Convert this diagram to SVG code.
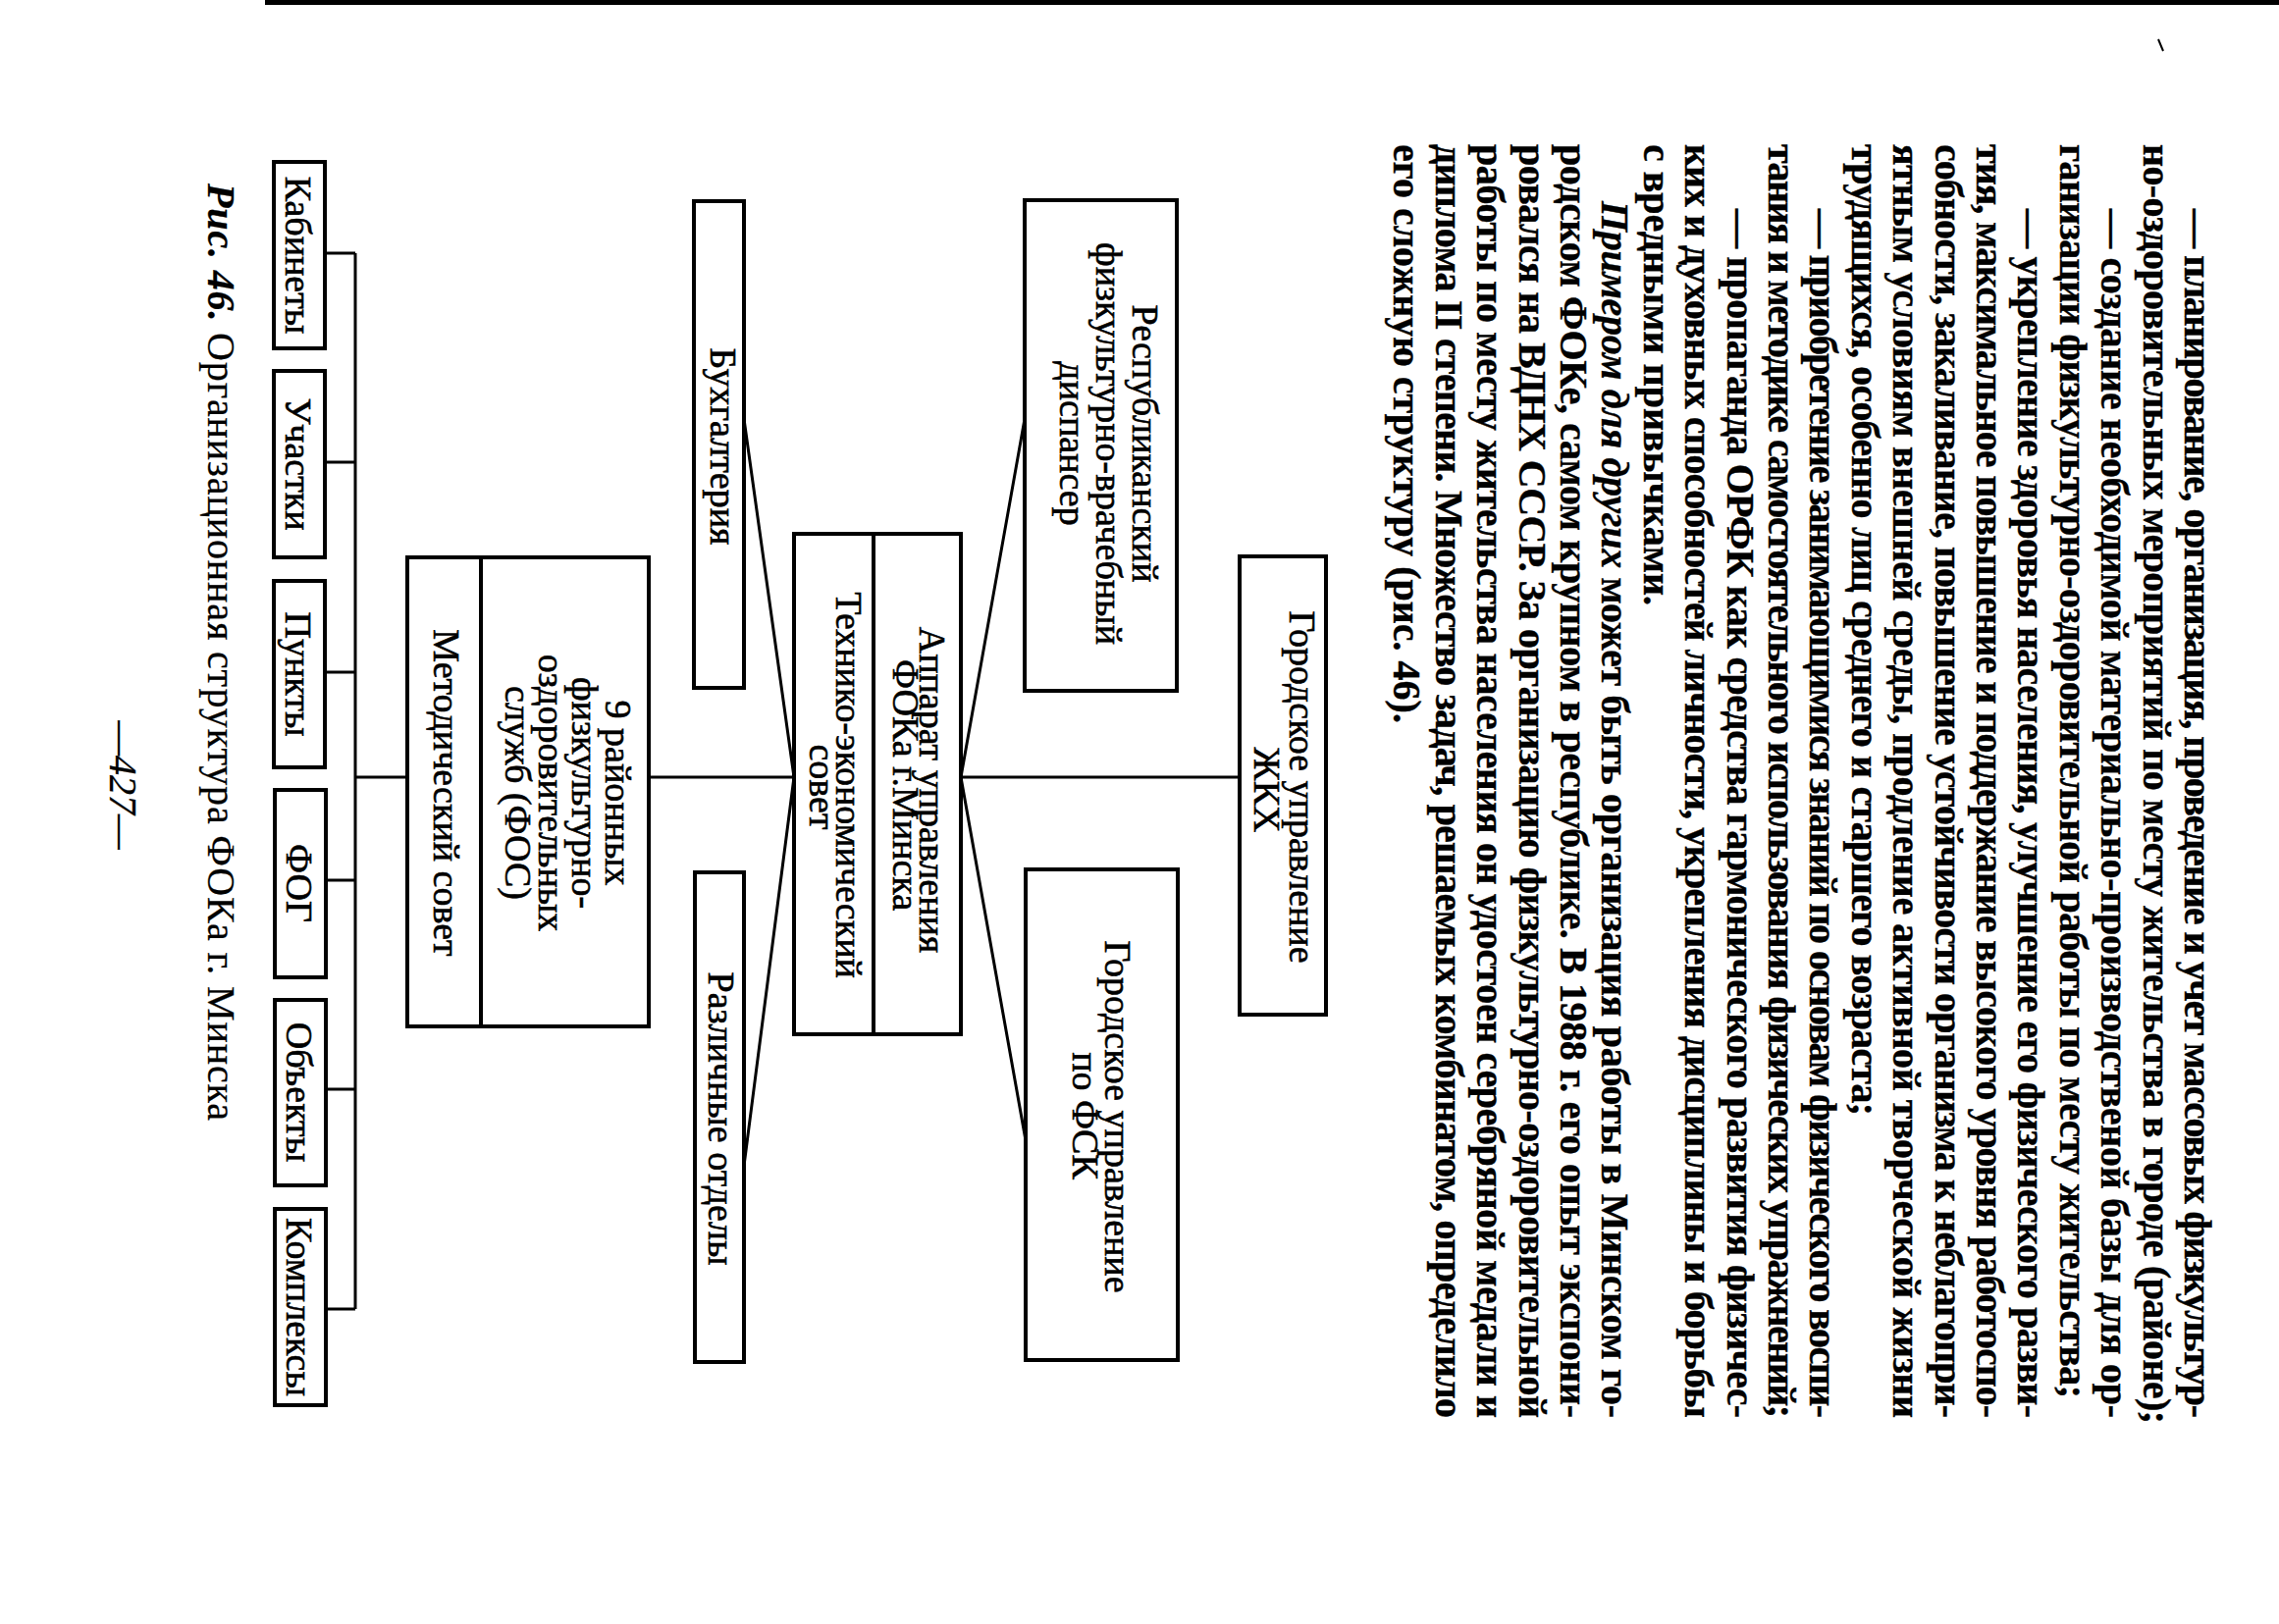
<svg xmlns="http://www.w3.org/2000/svg" width="2322" height="1655" viewBox="0 0 2322 1655">
<style>
.pt{font-family:"Liberation Serif",serif;font-weight:bold;font-size:40px;fill:#000;stroke:#000;stroke-width:0.4}
.it{font-style:italic}
.lbl{font-family:"Liberation Serif",serif;font-size:38px;fill:#000;stroke:#000;stroke-width:0.6;text-anchor:middle}
.box{fill:#fff;stroke:#000;stroke-width:4}
.ln{stroke:#000;stroke-width:3;fill:none}
.cap{font-family:"Liberation Serif",serif;font-size:40px;fill:#000;stroke:#000;stroke-width:0.3}
</style>
<rect x="0" y="0" width="2322" height="1655" fill="#fff"/>
<g id="page-edge">
<rect x="270" y="0" width="2052" height="5" fill="#000"/>
<line x1="2199" y1="40" x2="2204" y2="52" stroke="#000" stroke-width="2"/>
</g>
<g id="page-text" class="pt">
<text transform="translate(2226,213) rotate(90)" textLength="1232" lengthAdjust="spacing">— планирование, организация, проведение и учет массовых физкультур-</text>
<text transform="translate(2183.6,147) rotate(90)" textLength="1304" lengthAdjust="spacing">но-оздоровительных мероприятий по месту жительства в городе (районе);</text>
<text transform="translate(2141.2,213) rotate(90)" textLength="1232" lengthAdjust="spacing">— создание необходимой материально-производственой базы для ор-</text>
<text transform="translate(2098.8,147) rotate(90)" textLength="1278" lengthAdjust="spacing">ганизации физкультурно-оздоровительной работы по месту жительства;</text>
<text transform="translate(2056.4,213) rotate(90)" textLength="1232" lengthAdjust="spacing">— укрепление здоровья населения, улучшение его физического разви-</text>
<text transform="translate(2014,147) rotate(90)" textLength="1298" lengthAdjust="spacing">тия, максимальное повышение и поддержание высокого уровня работоспо-</text>
<text transform="translate(1971.6,147) rotate(90)" textLength="1298" lengthAdjust="spacing">собности, закаливание, повышение устойчивости организма к неблагопри-</text>
<text transform="translate(1929.2,147) rotate(90)" textLength="1298" lengthAdjust="spacing">ятным условиям внешней среды, продление активной творческой жизни</text>
<text transform="translate(1886.8,147) rotate(90)" textLength="990" lengthAdjust="spacing">трудящихся, особенно лиц среднего и старшего возраста;</text>
<text transform="translate(1844.4,213) rotate(90)" textLength="1232" lengthAdjust="spacing">— приобретение занимающимися знаний по основам физического воспи-</text>
<text transform="translate(1802,147) rotate(90)" textLength="1298" lengthAdjust="spacing">тания и методике самостоятельного использования физических упражнений;</text>
<text transform="translate(1759.6,213) rotate(90)" textLength="1232" lengthAdjust="spacing">— пропаганда ОРФК как средства гармонического развития физичес-</text>
<text transform="translate(1717.2,147) rotate(90)" textLength="1298" lengthAdjust="spacing">ких и духовных способностей личности, укрепления дисциплины и борьбы</text>
<text transform="translate(1674.8,147) rotate(90)">с вредными привычками.</text>
<text transform="translate(1632.4,205) rotate(90)" textLength="1240" lengthAdjust="spacing"><tspan class="it">Примером для других</tspan> может быть организация работы в Минском го-</text>
<text transform="translate(1590,147) rotate(90)" textLength="1298" lengthAdjust="spacing">родском ФОКе, самом крупном в республике. В 1988 г. его опыт экспони-</text>
<text transform="translate(1547.6,147) rotate(90)" textLength="1298" lengthAdjust="spacing">ровался на ВДНХ СССР. За организацию физкультурно-оздоровительной</text>
<text transform="translate(1505.2,147) rotate(90)" textLength="1298" lengthAdjust="spacing">работы по месту жительства населения он удостоен серебряной медали и</text>
<text transform="translate(1462.8,147) rotate(90)" textLength="1298" lengthAdjust="spacing">диплома II степени. Множество задач, решаемых комбинатом, определило</text>
<text transform="translate(1420.4,147) rotate(90)">его сложную структуру (рис. 46).</text>
</g>
<g id="connectors" class="ln">
<path d="M362 258 V1334"/>
<path d="M331 258 H362 M331 471 H362 M331 685 H362 M332 897 H362 M332 1110 H362 M332 1334 H362"/>
<path d="M362 792 H415"/>
<path d="M661 792 H809"/>
<path d="M979 792 H1263"/>
<path d="M758 427 L809 792 L758 1188"/>
<path d="M1044 427 L979 792 L1045 1162"/>
</g>
<g id="node-kabinety"><rect class="box" x="279" y="165" width="52" height="190"/><text class="lbl" transform="translate(291,260) rotate(90)">Кабинеты</text></g>
<g id="node-uchastki"><rect class="box" x="279" y="378" width="52" height="190"/><text class="lbl" transform="translate(291,473) rotate(90)">Участки</text></g>
<g id="node-punkty"><rect class="box" x="279" y="592" width="52" height="190"/><text class="lbl" transform="translate(291,687) rotate(90)">Пункты</text></g>
<g id="node-fog"><rect class="box" x="280" y="805" width="52" height="191"/><text class="lbl" transform="translate(292,900) rotate(90)">ФОГ</text></g>
<g id="node-obekty"><rect class="box" x="280" y="1019" width="52" height="189"/><text class="lbl" transform="translate(292,1113) rotate(90)">Объекты</text></g>
<g id="node-kompleksy"><rect class="box" x="280" y="1232" width="52" height="200"/><text class="lbl" transform="translate(292,1332) rotate(90)">Комплексы</text></g>
<g id="node-fos">
<rect class="box" x="415" y="568" width="246" height="478"/>
<line x1="490" y1="568" x2="490" y2="1046" stroke="#000" stroke-width="4"/>
<text class="lbl" transform="translate(442,808) rotate(90)">Методический совет</text>
<text class="lbl" transform="translate(617,808) rotate(90)">9 районных</text>
<text class="lbl" transform="translate(583,808) rotate(90)">физкультурно-</text>
<text class="lbl" transform="translate(549,808) rotate(90)">оздоровительных</text>
<text class="lbl" transform="translate(515,808) rotate(90)">служб (ФОС)</text>
</g>
<g id="node-buhgalteria"><rect class="box" x="707" y="205" width="51" height="496"/><text class="lbl" transform="translate(724,455) rotate(90)">Бухгалтерия</text></g>
<g id="node-otdely"><rect class="box" x="708" y="889" width="50" height="499"/><text class="lbl" transform="translate(722,1140) rotate(90)">Различные отделы</text></g>
<g id="node-apparat">
<rect class="box" x="809" y="544" width="170" height="510"/>
<line x1="890" y1="544" x2="890" y2="1054" stroke="#000" stroke-width="4"/>
<text class="lbl" transform="translate(937,805) rotate(90)">Аппарат управления</text>
<text class="lbl" transform="translate(910,800) rotate(90)">ФОКа г.Минска</text>
<text class="lbl" transform="translate(852,800) rotate(90)">Технико-экономический</text>
<text class="lbl" transform="translate(825,802) rotate(90)">совет</text>
</g>
<g id="node-dispanser"><rect class="box" x="1044" y="204" width="155" height="500"/>
<text class="lbl" transform="translate(1154,452) rotate(90)">Республиканский</text>
<text class="lbl" transform="translate(1117,452) rotate(90)">физкультурно-врачебный</text>
<text class="lbl" transform="translate(1080,452) rotate(90)">диспансер</text>
</g>
<g id="node-fsk"><rect class="box" x="1045" y="886" width="155" height="500"/>
<text class="lbl" transform="translate(1126,1138) rotate(90)">Городское управление</text>
<text class="lbl" transform="translate(1093,1137) rotate(90)">по ФСК</text>
</g>
<g id="node-zhkh"><rect class="box" x="1263" y="567" width="88" height="467"/>
<text class="lbl" transform="translate(1314,802) rotate(90)">Городское управление</text>
<text class="lbl" transform="translate(1278,805) rotate(90)">ЖКХ</text>
</g>
<g id="caption">
<text class="cap" transform="translate(212,187) rotate(90)" textLength="955" lengthAdjust="spacing"><tspan font-weight="bold" font-style="italic">Рис. 46.</tspan> Организационная структура ФОКа г. Минска</text>
<text class="cap" font-style="italic" font-size="42" text-anchor="middle" transform="translate(112,800) rotate(90)">—427—</text>
</g>
</svg>
